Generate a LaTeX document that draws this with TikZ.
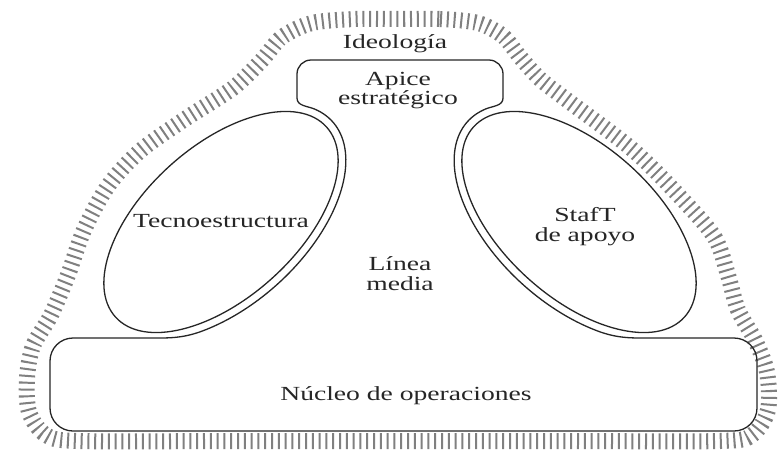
\documentclass[tikz,border=0pt]{standalone}
\usepackage{fontspec}
\setmainfont[FakeStretch=1.38]{Liberation Serif}
\begin{document}
\begin{tikzpicture}[x=1pt,y=1pt,
  outline/.style={draw=black!85, line width=1.3pt, line join=round},
  hatch/.style={draw=black!50, line width=16pt, dash pattern=on 2pt off 4.8pt},
  lbl/.style={font=\fontsize{20pt}{18pt}\selectfont, text=black!85, inner sep=0pt, anchor=base}]
\useasboundingbox (0,0) rectangle (781,-451);
\fill[white] (0,0) rectangle (781,-451);
% hatched border (ideology)
\draw[hatch] plot[smooth cycle, tension=0.5] coordinates {
 (400,-19) (440,-19) (478,-23) (503,-36) (520,-57) (540,-79) (567,-100)
 (633,-150) (683,-200) (715,-238) (728,-275) (738,-310) (755,-340) (767,-372)
 (768,-410) (752,-435) (720,-441) (560,-441) (400,-441) (240,-441) (80,-441)
 (46,-435) (29,-412) (27,-378) (33,-346) (51,-315) (68,-275) (84,-230)
 (108,-186) (140,-151) (185,-119) (233,-88) (262,-60) (282,-37) (312,-23) (355,-19)};
% ellipses
\draw[outline, rotate around={42:(221,-222)}] (221,-222) ellipse[x radius=142, y radius=76];
\draw[outline, rotate around={-42:(579,-222)}] (579,-222) ellipse[x radius=142, y radius=76];
% helper points on the parallel curves
\coordinate (PR1) at ({579-111.5*cos(15)+56.2*sin(15)},{-222+100.4*cos(15)+62.4*sin(15)});
\coordinate (PL2) at ({221+111.5*cos(-120)-56.2*sin(-120)},{-222+100.4*cos(-120)+62.4*sin(-120)});
% apex + middle line + operating core outline
\draw[outline] (297,-74) arc[start angle=180, end angle=90, radius=14]
  -- (489,-60) arc[start angle=90, end angle=0, radius=14]
  -- (503,-98) to[out=-90, in=22] (PR1)
  -- plot[domain=15:-120, samples=60, variable=\t]
     ({579-111.5*cos(\t)+56.2*sin(\t)},{-222+100.4*cos(\t)+62.4*sin(\t)})
  to[out=-24, in=180] (640,-338)
  -- (734,-338) arc[start angle=90, end angle=0, radius=23]
  -- (757,-408) arc[start angle=0, end angle=-90, radius=23]
  -- (73,-431) arc[start angle=270, end angle=180, radius=23]
  -- (50,-361) arc[start angle=180, end angle=90, radius=23]
  -- (160,-338) to[out=0, in=204] (PL2)
  -- plot[domain=-120:15, samples=60, variable=\t]
     ({221+111.5*cos(\t)-56.2*sin(\t)},{-222+100.4*cos(\t)+62.4*sin(\t)})
  to[out=158, in=-90] (297,-98) -- cycle;
% labels
\node[lbl] (ideo) at (395,-48) {Ideología};
\node[lbl] (apice1) at (398,-85) {Apice};
\node[lbl] (apice2) at (398,-104) {estratégico};
\node[lbl] (tecno) at (221,-227) {Tecnoestructura};
\node[lbl] (staff1) at (585,-221) {StafT};
\node[lbl] (staff2) at (585,-241) {de apoyo};
\node[lbl] (linea1) at (400,-270) {Línea};
\node[lbl] (linea2) at (400,-290) {media};
\node[lbl] (nucleo) at (406,-400) {Núcleo de operaciones};
\end{tikzpicture}
\end{document}
